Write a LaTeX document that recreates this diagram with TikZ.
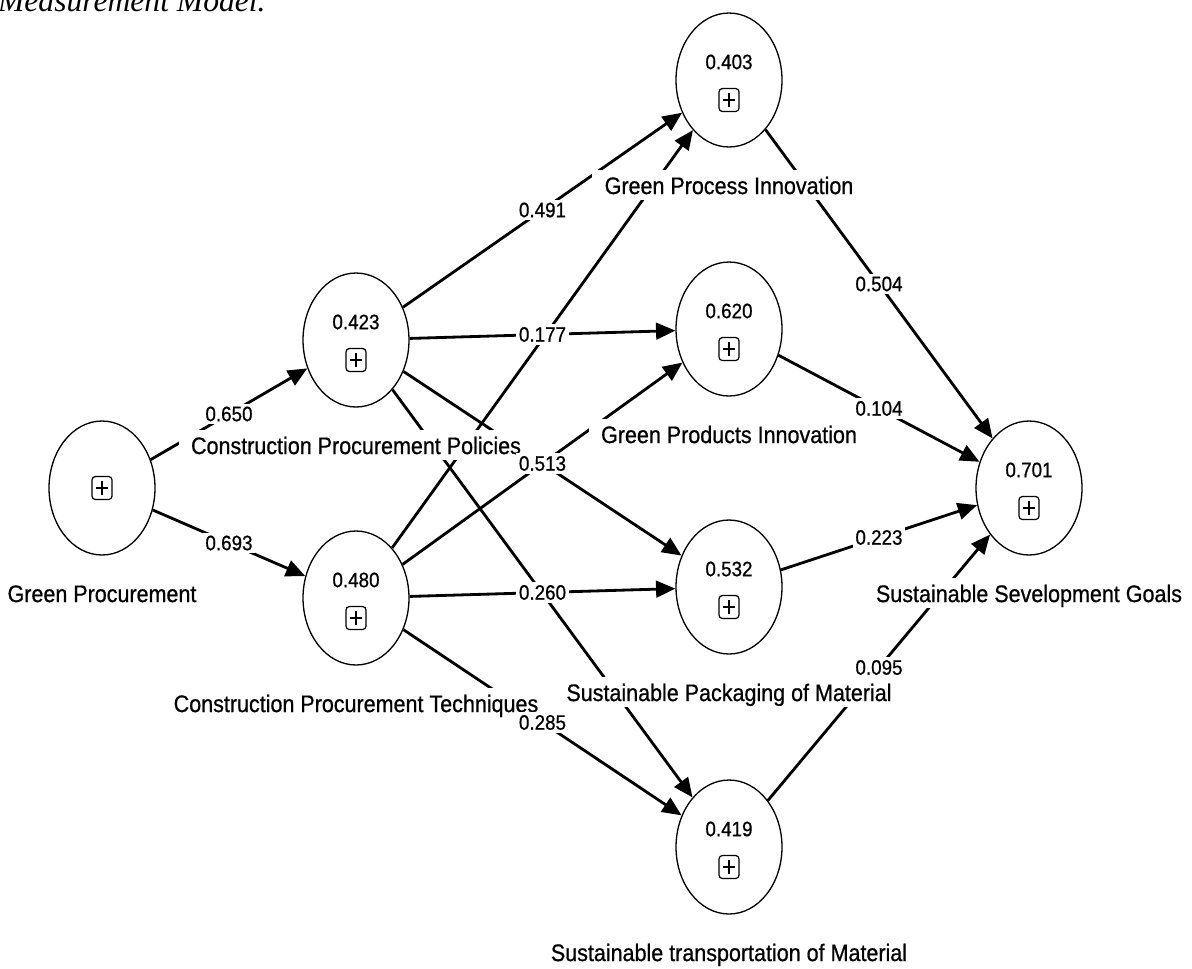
\documentclass[tikz,border=0pt]{standalone}
\usepackage{fontspec}
\setmainfont{Liberation Sans}[FakeStretch=0.9,FakeBold=0.7]
\newfontfamily\captionfont{Liberation Serif}
\usepackage{tikz}
\usetikzlibrary{
  arrows.meta,
  positioning,
  shapes.geometric,
  calc
}
\tikzset{
  latent/.style={
    ellipse, draw=black, line width=0.75pt, fill=white,
    minimum width=2.12cm, minimum height=2.68cm,
    inner sep=0pt,
  },
  rsqtext/.style={
    font=\fontsize{11.9}{14}\selectfont, inner sep=0pt,
  },
  plusbox/.style={
    draw=black, line width=0.7pt, rounded corners=1.8pt,
    minimum width=11.3pt, minimum height=13pt, inner sep=0pt,
    path picture={
      \draw[line width=0.6pt]
        ([xshift=2.3pt]path picture bounding box.west) --
        ([xshift=-2.3pt]path picture bounding box.east);
      \draw[line width=0.6pt]
        ([yshift=-2.6pt]path picture bounding box.north) --
        ([yshift=2.6pt]path picture bounding box.south);
    },
  },
  namelabel/.style={
    fill=white, font=\fontsize{13.6}{16}\selectfont,
    text height=11pt, text depth=1pt,
    inner xsep=7pt, inner ysep=2.5pt,
  },
  coef/.style={
    fill=white, font=\fontsize{11.9}{14}\selectfont,
    inner sep=1.5pt,
  },
  pathline/.style={
    -{Triangle[length=11pt,width=9.5pt]}, line width=1.6pt,
  },
}

\begin{document}
\begin{tikzpicture}[x=0.02cm,y=-0.02cm]

  \useasboundingbox (0,0) rectangle (1192,968);
  \clip (0,0) rectangle (1192,968);

  % ─── Caption (cut off at the top) ────────────────────────────────────
  \node[anchor=base east, inner sep=0pt,
        font=\captionfont\itshape\fontsize{18}{20}\selectfont]
    (caption) at (266,11) {Measurement Model.};

  % ─── Latent variables ────────────────────────────────────────────────
  \node[latent] (gp) at (102,488) {};
  \node[plusbox] (gp-box) at (gp) {};

  \node[latent] (cpp) at (356,340) {};
  \node[rsqtext] (cpp-r2) at ($(cpp)+(0,-18)$) {0.423};
  \node[plusbox] (cpp-box) at ($(cpp)+(0,20)$) {};

  \node[latent] (cpt) at (356,598) {};
  \node[rsqtext] (cpt-r2) at ($(cpt)+(0,-18)$) {0.480};
  \node[plusbox] (cpt-box) at ($(cpt)+(0,20)$) {};

  \node[latent] (gpi) at (729,80) {};
  \node[rsqtext] (gpi-r2) at ($(gpi)+(0,-18)$) {0.403};
  \node[plusbox] (gpi-box) at ($(gpi)+(0,20)$) {};

  \node[latent] (gprod) at (729,329) {};
  \node[rsqtext] (gprod-r2) at ($(gprod)+(0,-18)$) {0.620};
  \node[plusbox] (gprod-box) at ($(gprod)+(0,20)$) {};

  \node[latent] (spm) at (729,587) {};
  \node[rsqtext] (spm-r2) at ($(spm)+(0,-18)$) {0.532};
  \node[plusbox] (spm-box) at ($(spm)+(0,20)$) {};

  \node[latent] (stm) at (729,847) {};
  \node[rsqtext] (stm-r2) at ($(stm)+(0,-18)$) {0.419};
  \node[plusbox] (stm-box) at ($(stm)+(0,20)$) {};

  \node[latent] (sdg) at (1029,488) {};
  \node[rsqtext] (sdg-r2) at ($(sdg)+(0,-18)$) {0.701};
  \node[plusbox] (sdg-box) at ($(sdg)+(0,20)$) {};

  % ─── Paths ───────────────────────────────────────────────────────────
  \draw[pathline] (gp) -- (cpp);
  \draw[pathline] (gp) -- (cpt);

  \draw[pathline] (cpp) -- (gpi);
  \draw[pathline] (cpp) -- (gprod);
  \draw[pathline] (cpp) -- (spm);
  \draw[pathline] (cpp) -- (stm);

  \draw[pathline] (cpt) -- (gpi);
  \draw[pathline] (cpt) -- (gprod);
  \draw[pathline] (cpt) -- (spm);
  \draw[pathline] (cpt) -- (stm);

  \draw[pathline] (gpi) -- (sdg);
  \draw[pathline] (gprod) -- (sdg);
  \draw[pathline] (spm) -- (sdg);
  \draw[pathline] (stm) -- (sdg);

  % ─── Construct names ─────────────────────────────────────────────────
  \node[namelabel, below=12.7pt of gp] (gp-name) {Green Procurement};
  \node[namelabel, below=12.7pt of cpp] (cpp-name) {Construction Procurement Policies};
  \node[namelabel, below=12.7pt of cpt] (cpt-name) {Construction Procurement Techniques};
  \node[namelabel, below=12.7pt of gpi] (gpi-name) {Green Process Innovation};
  \node[namelabel, below=12.7pt of gprod] (gprod-name) {Green Products Innovation};
  \node[namelabel, below=12.7pt of spm] (spm-name) {Sustainable Packaging of Material};
  \node[namelabel, below=12.7pt of stm] (stm-name) {Sustainable transportation of Material};
  \node[namelabel, below=12.7pt of sdg] (sdg-name) {Sustainable Sevelopment Goals};

  % ─── Path coefficients ───────────────────────────────────────────────
  \path (gp) -- node[coef] {0.650} (cpp);
  \path (gp) -- node[coef] {0.693} (cpt);
  \path (cpp) -- node[coef] {0.491} (gpi);
  \path (cpp) -- node[coef] {0.177} (gprod);
  \path (cpp) -- node[coef] {0.513} (spm);
  \path (cpt) -- node[coef] {0.260} (spm);
  \path (cpt) -- node[coef] {0.285} (stm);
  \path (gpi) -- node[coef] {0.504} (sdg);
  \path (gprod) -- node[coef] {0.104} (sdg);
  \path (spm) -- node[coef] {0.223} (sdg);
  \path (stm) -- node[coef] {0.095} (sdg);

\end{tikzpicture}
\end{document}
